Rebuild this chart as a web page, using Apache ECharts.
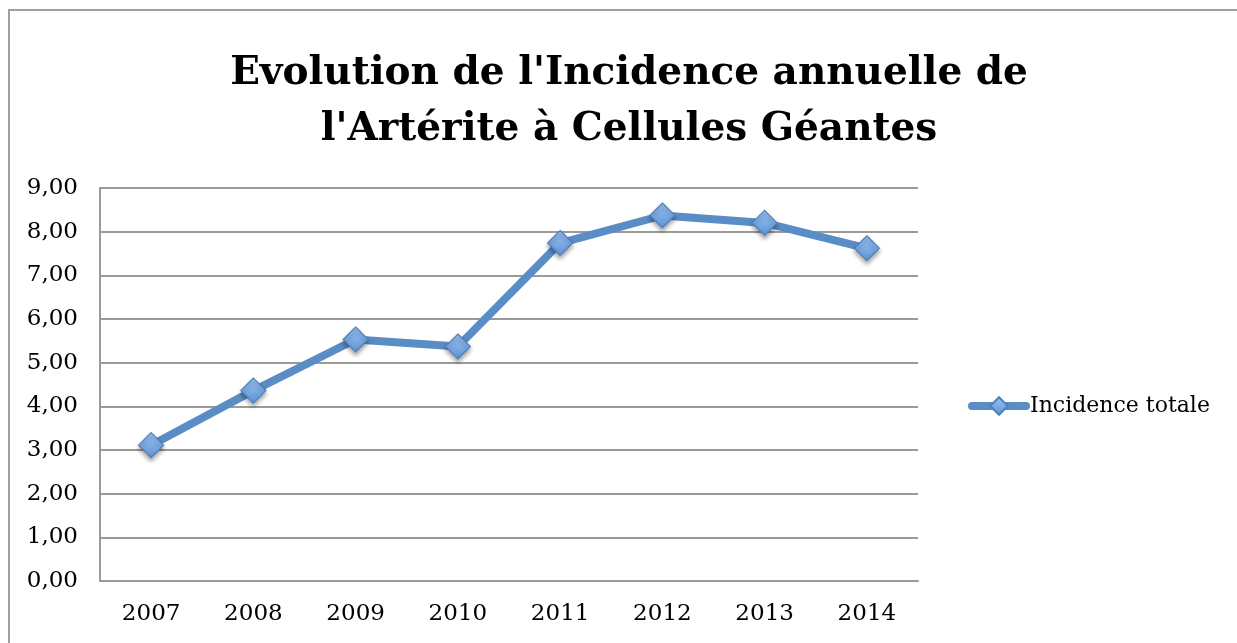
<!DOCTYPE html>
<html><head><meta charset="utf-8">
<script src="https://cdn.jsdelivr.net/npm/echarts@6/dist/echarts.min.js"></script>
<style>html,body{margin:0;padding:0;background:#fff}#c{width:1237px;height:643px}</style>
</head><body><div id="c"></div>
<script>
const titleText = "Evolution de l'Incidence annuelle de\nl'Artérite à Cellules Géantes";
const years = ['2007','2008','2009','2010','2011','2012','2013','2014'];
const incidenceTotale = [3.11, 4.36, 5.53, 5.37, 7.74, 8.37, 8.20, 7.62];
const seriesName = 'Incidence totale';
const yMin = 0, yMax = 9, yStep = 1;

const chart = echarts.init(document.getElementById('c'), null, {renderer:'canvas'});
const FONT = "'DejaVu Serif', 'Liberation Serif', serif";
chart.setOption({
  animation:false,
  backgroundColor:'#fff',
  title:{text:titleText,left:624,textAlign:'center',top:41,
    textStyle:{fontFamily:FONT,fontWeight:'bold',fontSize:39,lineHeight:56,color:'#000'}},
  graphic:[{type:'polyline',shape:{points:[[9,650],[9,10],[1245,10]]},
    style:{stroke:'#a0a0a0',lineWidth:2,fill:null}}],
  grid:{left:100,right:319,top:188,bottom:62,containLabel:false},
  legend:{orient:'vertical',left:963,top:390,itemWidth:54,itemHeight:22,itemGap:4,
    lineStyle:{width:8,color:'#5A8DC6',cap:'round'},
    textStyle:{fontFamily:FONT,fontSize:22,color:'#000',padding:[0,0,0,-1]},
    data:[{name:seriesName}]},
  xAxis:{type:'category',data:years,boundaryGap:true,
    axisLine:{show:true,lineStyle:{color:'#9a9a9a',width:2}},
    axisTick:{show:false},
    axisLabel:{fontFamily:FONT,fontSize:23,color:'#000',margin:22},
    splitLine:{show:false}},
  yAxis:{type:'value',min:yMin,max:yMax,interval:yStep,
    axisLine:{show:true,lineStyle:{color:'#9a9a9a',width:2}},
    axisTick:{show:false},
    axisLabel:{fontFamily:FONT,fontSize:23,color:'#000',margin:22,
      formatter:v=>v.toFixed(2).replace('.',',')},
    splitLine:{show:true,lineStyle:{color:'#9a9a9a',width:2}}},
  series:[{name:seriesName,type:'line',data:incidenceTotale,
    lineStyle:{color:'#5A8DC6',width:8},
    symbol:'diamond',symbolSize:[25,25],
    itemStyle:{color:new echarts.graphic.LinearGradient(0,0,0,1,[{offset:0,color:'#9CC3F2'},{offset:1,color:'#5E93D6'}]),
      borderColor:'#4F81BD',borderWidth:1.2,
      shadowColor:'rgba(0,0,0,0.35)',shadowBlur:4,shadowOffsetY:3},
    emphasis:{disabled:true}}]
});
</script></body></html>
